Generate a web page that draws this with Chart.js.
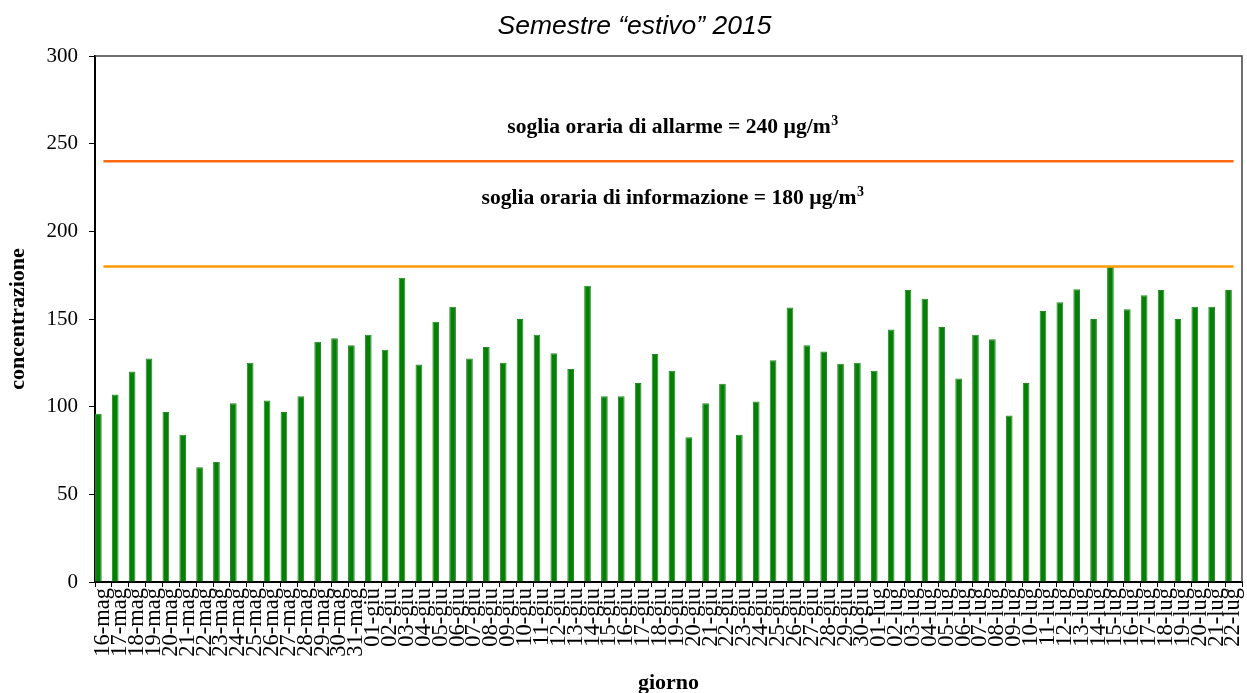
<!DOCTYPE html>
<html>
<head>
<meta charset="utf-8">
<script src="https://cdn.jsdelivr.net/npm/chart.js@4/dist/chart.umd.min.js"></script>
<style>
  html, body { margin: 0; padding: 0; background: #fff; }
  #wrap { width: 1247px; height: 693px; position: relative; }
</style>
</head>
<body>
<div id="wrap"><canvas id="grafico"></canvas></div>
<script>
const giorni = [
  "16-mag", "17-mag", "18-mag", "19-mag", "20-mag", "21-mag", "22-mag", "23-mag",
  "24-mag", "25-mag", "26-mag", "27-mag", "28-mag", "29-mag", "30-mag", "31-mag",
  "01-giu", "02-giu", "03-giu", "04-giu", "05-giu", "06-giu", "07-giu", "08-giu",
  "09-giu", "10-giu", "11-giu", "12-giu", "13-giu", "14-giu", "15-giu", "16-giu",
  "17-giu", "18-giu", "19-giu", "20-giu", "21-giu", "22-giu", "23-giu", "24-giu",
  "25-giu", "26-giu", "27-giu", "28-giu", "29-giu", "30-giu",
  "01-lug", "02-lug", "03-lug", "04-lug", "05-lug", "06-lug", "07-lug", "08-lug",
  "09-lug", "10-lug", "11-lug", "12-lug", "13-lug", "14-lug", "15-lug", "16-lug",
  "17-lug", "18-lug", "19-lug", "20-lug", "21-lug", "22-lug"
];

// massimo orario giornaliero (µg/m3)
const concentrazione = [
  96, 107, 120, 127.5, 97, 84, 65.5, 68.5, 102, 125, 103.5, 97, 106, 137, 139, 135,
  141, 132.5, 173.5, 124, 148.5, 157, 127.5, 134, 125, 150,
  141, 130.5, 121.5, 169, 106, 106, 113.5, 130, 120.5, 82.5,
  102, 113, 84, 103, 126.5, 156.5, 135, 131.5, 124.5, 125,
  120.5, 144, 166.5, 161.5, 145.5, 116, 141, 138.5, 95, 113.5,
  154.5, 159.5, 167, 150, 180, 155.5, 163.5, 166.5, 150, 157,
  157, 166.5
];

const sogliaAllarme = 240;
const sogliaInformazione = 180;
const yTicks = [0, 50, 100, 150, 200, 250, 300];
const titolo = "Semestre \u201cestivo\u201d 2015";

const SERIF = "'Liberation Serif', 'Times New Roman', serif";

// linea di soglia: dal primo all'ultimo giorno
function lineaSoglia(valore) {
  return [
    { x: giorni[0], y: valore },
    { x: giorni[giorni.length - 1], y: valore }
  ];
}

const testiSoglie = {
  id: "testiSoglie",
  afterDatasetsDraw(chart) {
    const { ctx, chartArea, scales } = chart;
    const cx = (chartArea.left + chartArea.right) / 2 + 4;
    const righe = [
      { testo: "soglia oraria di allarme = " + sogliaAllarme + " µg/m", v: 259.5 },
      { testo: "soglia oraria di informazione = " + sogliaInformazione + " µg/m", v: 219 }
    ];
    ctx.save();
    ctx.fillStyle = "#000";
    ctx.textBaseline = "middle";
    ctx.textAlign = "left";
    for (const r of righe) {
      const y = scales.y.getPixelForValue(r.v);
      ctx.font = "bold 21.6px " + SERIF;
      const w1 = ctx.measureText(r.testo).width;
      ctx.font = "bold 14px " + SERIF;
      const w2 = ctx.measureText("3").width;
      const x0 = cx - (w1 + w2) / 2;
      ctx.font = "bold 21.6px " + SERIF;
      ctx.fillText(r.testo, x0, y);
      ctx.font = "bold 14px " + SERIF;
      ctx.fillText("3", x0 + w1 + 0.5, y - 6);
    }
    // titolo
    ctx.font = "italic 26.5px 'Liberation Sans', Arial, sans-serif";
    ctx.textAlign = "center";
    ctx.fillText(titolo, 634.5, 27);
    // cornice superiore e destra
    ctx.strokeStyle = "#404040";
    ctx.lineWidth = 1.5;
    ctx.beginPath();
    ctx.moveTo(chartArea.left, chartArea.top);
    ctx.lineTo(chartArea.right, chartArea.top);
    ctx.lineTo(chartArea.right, chartArea.bottom);
    ctx.stroke();
    ctx.restore();
  }
};

new Chart(document.getElementById("grafico"), {
  type: "bar",
  data: {
    labels: giorni,
    datasets: [
      {
        type: "line",
        label: "soglia di allarme",
        data: lineaSoglia(sogliaAllarme),
        borderColor: "#ff6a10",
        borderWidth: 2.5,
        pointRadius: 0,
        fill: false
      },
      {
        type: "line",
        label: "soglia di informazione",
        data: lineaSoglia(sogliaInformazione),
        borderColor: "#ff9a00",
        borderWidth: 2.5,
        pointRadius: 0,
        fill: false
      },
      {
        label: "concentrazione",
        data: concentrazione,
        backgroundColor: "#067f06",
        borderColor: "#238c23",
        borderWidth: 1,
        categoryPercentage: 1.2,
        barPercentage: 0.66
      },
      {
        label: "",
        data: [],
        categoryPercentage: 1.2,
        barPercentage: 0.66
      }
    ]
  },
  options: {
    responsive: true,
    maintainAspectRatio: false,
    animation: false,
    layout: { padding: { left: 0, right: 5, top: 56, bottom: 0 } },
    plugins: {
      legend: { display: false },
      tooltip: { enabled: false },
      title: { display: false }
    },
    scales: {
      x: {
        grid: { display: true, drawOnChartArea: false, drawTicks: true, tickLength: 5, color: "#000", lineWidth: 1 },
        border: { display: true, color: "#000", width: 2 },
        ticks: {
          autoSkip: false,
          maxRotation: 90,
          minRotation: 90,
          padding: 1,
          color: "#000",
          font: { family: SERIF, size: 22.5 }
        },
        title: {
          display: true,
          text: "giorno",
          color: "#000",
          font: { family: SERIF, size: 22, weight: "bold", lineHeight: 1.2 },
          padding: { top: 0, bottom: -4 }
        },
        afterFit(scale) {
          scale.height = 111;
          scale.paddingLeft = 0;
          scale.paddingRight = 0;
        }
      },
      y: {
        min: 0,
        max: 300,
        afterBuildTicks(scale) { scale.ticks = yTicks.map(v => ({ value: v })); },
        grid: { display: true, drawOnChartArea: false, drawTicks: true, tickLength: 6, color: "#000", lineWidth: 1 },
        border: { display: true, color: "#000", width: 2 },
        ticks: {
          padding: 11,
          color: "#000",
          font: { family: SERIF, size: 21 }
        },
        title: {
          display: true,
          text: "concentrazione",
          color: "#000",
          font: { family: SERIF, size: 22, weight: "bold", lineHeight: 1.2 },
          padding: { top: 5, bottom: 0 }
        },
        afterFit(scale) {
          scale.width = 95;
          scale.paddingTop = 0;
          scale.paddingBottom = 0;
        }
      }
    }
  },
  plugins: [testiSoglie]
});
</script>
</body>
</html>
